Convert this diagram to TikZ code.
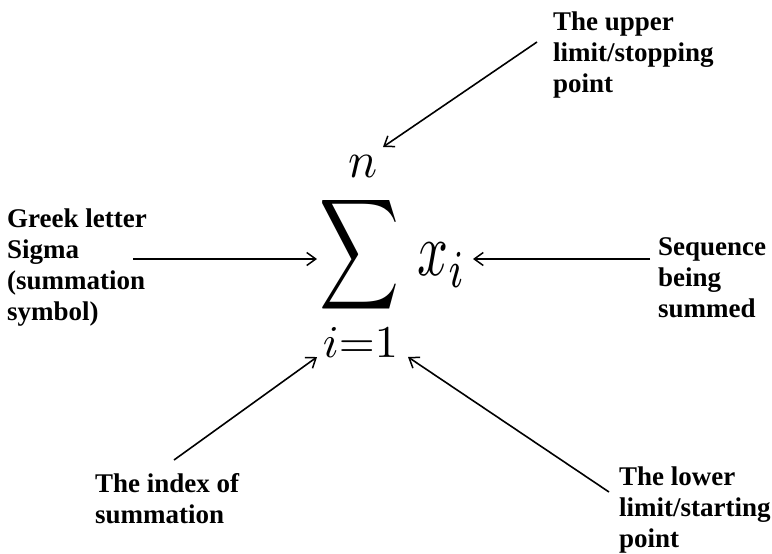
\documentclass[tikz,border=0pt]{standalone}
\usepackage{fontspec}
\newfontfamily\lblfont{Liberation Serif}
\usetikzlibrary{arrows.meta}
\tikzset{
  lbl/.style={font=\lblfont\bfseries\fontsize{27}{31}\selectfont, align=left, inner sep=0pt, anchor=base west},
  conn/.style={line width=1.6pt, -{Straight Barb[length=9pt,width=13pt,line width=1.5pt]}},
  mth/.style={inner sep=0pt, anchor=center}
}
\begin{document}
\begin{tikzpicture}[x=1pt,y=-1pt]
\useasboundingbox (0,0) rectangle (772,554);
% math
\node[mth] (sig) at (359.5,255) {\resizebox*{80pt}{124pt}{$\displaystyle\sum$}};
\node[mth] (n) at (362.5,166) {\resizebox*{29pt}{22pt}{$n$}};
\node[mth] (xi) at (442.5,265) {\resizebox*{49pt}{44pt}{$x_i$}};
\node[mth] (low) at (360.5,342) {\resizebox*{75pt}{30pt}{$i{=}1$}};
% labels (anchor = baseline of last line)
\node[lbl] (up) at (553,92) {The upper\\limit/stopping\\point};
\node[lbl] (gr) at (7,320) {Greek letter\\Sigma\\(summation\\symbol)};
\node[lbl] (sq) at (658,317) {Sequence\\being\\summed};
\node[lbl] (ix) at (95,523) {The index of\\summation};
\node[lbl] (lw) at (619,547) {The lower\\limit/starting\\point};
% connector ends
\coordinate (t1) at (537,42);  \coordinate (h1) at (383,147);
\coordinate (t2) at (133,259); \coordinate (h2) at (317,259);
\coordinate (t3) at (650,259); \coordinate (h3) at (473,259);
\coordinate (t4) at (174,460); \coordinate (h4) at (317,357);
\coordinate (t5) at (609,492); \coordinate (h5) at (408,357);
\draw[conn] (t1) -- (h1);
\draw[conn] (t2) -- (h2);
\draw[conn] (t3) -- (h3);
\draw[conn] (t4) -- (h4);
\draw[conn] (t5) -- (h5);
\end{tikzpicture}
\end{document}
